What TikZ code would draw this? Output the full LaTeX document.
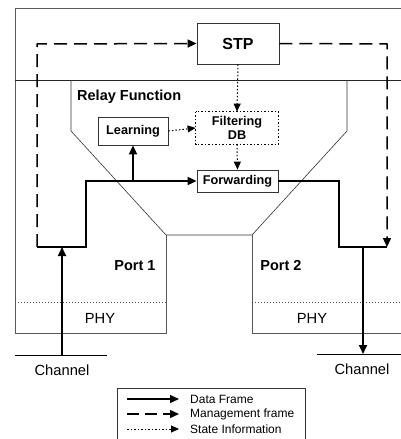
\documentclass[tikz,border=0pt]{standalone}
\usepackage{fontspec}
\setmainfont{Liberation Sans}
\usetikzlibrary{arrows.meta}
\tikzset{
  frame/.style={draw=black!65, line width=0.8pt},
  thinline/.style={draw=black!80, line width=0.6pt},
  boxn/.style={draw=black!80, line width=0.8pt, inner sep=0pt, font=\fontsize{12.7}{14}\selectfont\bfseries, align=center},
  data/.style={line width=1.8pt, -{Triangle[length=9pt,width=8pt]}},
  dataline/.style={line width=1.8pt},
  mgmt/.style={line width=1.5pt, dash pattern=on 13pt off 7pt, -{Triangle[length=9pt,width=8pt]}},
  mgmtline/.style={line width=1.5pt, dash pattern=on 13pt off 7pt},
  state/.style={line width=1pt, dash pattern=on 1.5pt off 2pt, -{Triangle[length=8pt,width=7pt]}},
  lbl/.style={font=\fontsize{14.7}{16}\selectfont},
  blbl/.style={font=\fontsize{14.5}{16}\selectfont\bfseries},
  leg/.style={font=\fontsize{12}{13}\selectfont, anchor=west, inner sep=0pt}
}
\begin{document}
\begin{tikzpicture}[x=1pt,y=-1pt]
\useasboundingbox (0,0) rectangle (401,439);
% outer frame and ports
\draw[frame] (401,8) -- (15,8) -- (15,333) -- (166,333) -- (166,235);
\draw[draw=black!85, line width=0.9pt] (15,80) -- (401,80);
\draw[frame] (252,235) -- (252,333) -- (401,333);
\draw[thinline] (71,80) -- (71,131) -- (166,235) -- (252,235) -- (347,131) -- (347,80);
\draw[black!70, line width=0.8pt, dash pattern=on 1.2pt off 1.8pt] (15,302.5) -- (166,302.5);
\draw[black!70, line width=0.8pt, dash pattern=on 1.2pt off 1.8pt] (252,302.5) -- (401,302.5);
% labels
\node[blbl, anchor=west, inner sep=0pt] (relay) at (77,96.5) {Relay Function};
\node[blbl, inner sep=0pt] (p1) at (135,266) {Port 1};
\node[blbl, inner sep=0pt] (p2) at (281,266) {Port 2};
\node[lbl, inner sep=0pt] (phy1) at (100,318) {PHY};
\node[lbl, inner sep=0pt] (phy2) at (312,318) {PHY};
\node[lbl, inner sep=0pt] (ch1) at (62,370) {Channel};
\node[lbl, inner sep=0pt] (ch2) at (362,369) {Channel};
% channels
\coordinate (c1a) at (15,355); \coordinate (c1b) at (107,355);
\coordinate (c2a) at (317,354); \coordinate (c2b) at (401,354);
\draw[line width=1pt] (c1a) -- (c1b);
\draw[line width=1pt] (c2a) -- (c2b);
% boxes
\node[boxn, minimum width=82pt, minimum height=41pt, font=\fontsize{16}{18}\selectfont\bfseries] (stp) at (238,43.5) {STP};
\node[boxn, minimum width=70pt, minimum height=28pt] (learn) at (133,131) {Learning};
\node[boxn, draw=none, minimum width=82pt, minimum height=32pt, font=\fontsize{12.7}{14.5}\selectfont\bfseries] (fdb) at (237,128) {Filtering\\DB};
\draw[line width=0.9pt, dash pattern=on 1.5pt off 2pt] (fdb.north west) rectangle (fdb.south east);
\node[boxn, minimum width=81pt, minimum height=22pt] (fw) at (237.5,181) {Forwarding};
% coordinates
\coordinate (lc) at (37,247);
\coordinate (lj) at (62,247);
\coordinate (lk) at (86,247);
\coordinate (lu) at (86,181);
\coordinate (lb) at (133,181);
\coordinate (ru) at (339,181);
\coordinate (rk) at (339,247);
\coordinate (rj) at (363,247);
\coordinate (rc) at (387,247);
\coordinate (ltop) at (37,44);
\coordinate (rtop) at (387,44);
\coordinate (chin) at (62,355);
\coordinate (chout) at (363,354);
% management frames
\draw[mgmt] (lc) -- (ltop) -- (stp.west);
\draw[mgmt] (stp.east) -- (rtop) -- (rc);
% data frames
\draw[data] (chin) -- (lj);
\draw[data] (lc) -- (lk) -- (lu) -- (fw.west);
\draw[data] (lb) -- (learn.south);
\draw[dataline] (fw.east) -- (ru) -- (rk) -- (rc);
\draw[data] (rj) -- (chout);
% state information
\draw[state] (stp.south) -- (fdb.north);
\draw[state] (learn.east) -- (fdb.west);
\draw[state] (fdb.south) -- (fw.north);
% legend
\draw[line width=0.8pt, black!80] (117,440) -- (117,388) -- (305,388) -- (305,440);
\coordinate (l1a) at (127,399); \coordinate (l1b) at (179,399);
\coordinate (l2a) at (127,414); \coordinate (l2b) at (179,414);
\coordinate (l3a) at (127,429); \coordinate (l3b) at (179,429);
\draw[data, line width=1.3pt] (l1a) -- (l1b);
\draw[mgmt, line width=1.3pt, dash pattern=on 12pt off 6pt] (l2a) -- (l2b);
\draw[state, line width=0.9pt] (l3a) -- (l3b);
\node[leg] (t1) at (190,399) {Data Frame};
\node[leg] (t2) at (190,414) {Management frame};
\node[leg] (t3) at (190,429) {State Information};
\end{tikzpicture}
\end{document}
